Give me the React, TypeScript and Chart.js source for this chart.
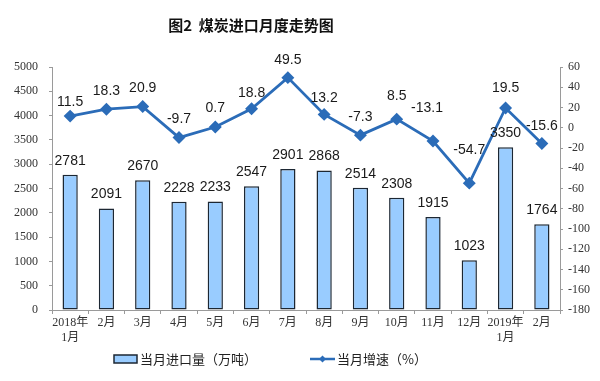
import React, { useEffect, useRef } from "react";
import { Chart, registerables } from "chart.js";

Chart.register(...registerables);

const categories = ["2018年\n1月", "2月", "3月", "4月", "5月", "6月", "7月", "8月", "9月", "10月", "11月", "12月", "2019年\n1月", "2月"];
const importVolume = [2781, 2091, 2670, 2228, 2233, 2547, 2901, 2868, 2514, 2308, 1915, 1023, 3350, 1764];
const growthRate = [11.5, 18.3, 20.9, -9.7, 0.7, 18.8, 49.5, 13.2, -7.3, 8.5, -13.1, -54.7, 19.5, -15.6];
const barLegend = "当月进口量（万吨）";
const lineLegend = "当月增速（%）";
const titleText = "图2  煤炭进口月度走势图";

// label offsets (style only)
const lineLabelDy = [14, 18, 18, 18, 19, 16, 17, 16, 18, 23, 33, 33, 20, 17];
const lineLabelDx = [0, 0, 0, 0, 0, 0, 0, 0, 0, 0, -6, 0, 0, 0];

const BAR_FILL = "#99CCFF";
const BAR_BORDER = "#1c2733";
const LINE_COLOR = "#2B6CB8";
const TICK_FONT = "'Liberation Serif', 'Noto Sans CJK SC', serif";
const LABEL_FONT = "'Liberation Sans', Arial, sans-serif";

const overlayPlugin = {
  id: "overlay",
  afterDatasetsDraw(chart: any) {
    const ctx = chart.ctx;
    ctx.save();
    ctx.textAlign = "center";
    ctx.textBaseline = "middle";
    ctx.fillStyle = "#1a1a1a";
    ctx.font = `14px ${LABEL_FONT}`;
    const barMeta = chart.getDatasetMeta(0);
    barMeta.data.forEach((el: any, i: number) => {
      ctx.fillText(String(importVolume[i]), el.x, el.y - 14);
    });
    const lineMeta = chart.getDatasetMeta(1);
    lineMeta.data.forEach((el: any, i: number) => {
      ctx.fillText(String(growthRate[i]), el.x + lineLabelDx[i], el.y - lineLabelDy[i]);
    });
    ctx.restore();
  },
  afterDraw(chart: any) {
    const ctx = chart.ctx;
    ctx.save();
    // title
    ctx.fillStyle = "#111";
    ctx.font = `bold 15px 'Noto Sans CJK SC', sans-serif`;
    ctx.textAlign = "center";
    ctx.textBaseline = "middle";
    ctx.fillText(titleText, 251, 25);
    // legend
    const ly = 359;
    ctx.fillStyle = BAR_FILL;
    ctx.strokeStyle = BAR_BORDER;
    ctx.lineWidth = 1.5;
    ctx.fillRect(114, ly - 4, 23, 8);
    ctx.strokeRect(114, ly - 4, 23, 8);
    ctx.fillStyle = "#222";
    ctx.font = `13px 'Noto Sans CJK SC', serif`;
    ctx.textAlign = "left";
    ctx.fillText(barLegend, 140, ly);
    ctx.strokeStyle = LINE_COLOR;
    ctx.lineWidth = 2.5;
    ctx.beginPath();
    ctx.moveTo(310, ly);
    ctx.lineTo(335, ly);
    ctx.stroke();
    ctx.fillStyle = LINE_COLOR;
    ctx.beginPath();
    ctx.moveTo(322.5, ly - 3.5);
    ctx.lineTo(326, ly);
    ctx.lineTo(322.5, ly + 3.5);
    ctx.lineTo(319, ly);
    ctx.closePath();
    ctx.fill();
    ctx.fillStyle = "#222";
    ctx.fillText(lineLegend, 337, ly);
    ctx.restore();
  },
};

export default function App() {
  const ref = useRef<HTMLCanvasElement | null>(null);
  useEffect(() => {
    if (!ref.current) return;
    const chart = new Chart(ref.current, {
      type: "bar",
      data: {
        labels: categories,
        datasets: [
          {
            type: "bar",
            label: barLegend,
            data: importVolume,
            backgroundColor: BAR_FILL,
            borderColor: BAR_BORDER,
            borderWidth: 1.5,
            borderSkipped: false,
            barPercentage: 0.42,
            categoryPercentage: 1,
            yAxisID: "y",
            order: 2,
          },
          {
            type: "line",
            label: lineLegend,
            data: growthRate,
            borderColor: LINE_COLOR,
            backgroundColor: LINE_COLOR,
            borderWidth: 2.8,
            pointStyle: "rectRot",
            pointRadius: 4.5,
            pointBackgroundColor: LINE_COLOR,
            pointBorderColor: LINE_COLOR,
            tension: 0,
            yAxisID: "y1",
            order: 1,
          } as any,
        ],
      },
      options: {
        responsive: false,
        animation: false,
        layout: { padding: { top: 67, left: 0, right: 0, bottom: 0 } },
        plugins: {
          legend: { display: false },
          title: { display: false },
          tooltip: { enabled: false },
        },
        scales: {
          x: {
            offset: true,
            grid: {
              offset: true,
              drawOnChartArea: false,
              drawTicks: true,
              tickLength: 4,
              color: "#9a9a9a",
            },
            border: { color: "#9a9a9a", width: 1 },
            ticks: {
              color: "#333",
              font: { family: TICK_FONT, size: 12 },
              padding: 2,
              maxRotation: 0,
              autoSkip: false,
              callback: (_v: any, i: number) => categories[i].split("\n"),
            },
            afterFit: (s: any) => {
              s.height = 71;
            },
          },
          y: {
            position: "left",
            min: 0,
            max: 5000,
            ticks: {
              stepSize: 500,
              color: "#333",
              font: { family: TICK_FONT, size: 12 },
              padding: 11,
              callback: (v: any) => String(v),
            },
            grid: { drawOnChartArea: false, tickLength: 3, color: "#9a9a9a" },
            border: { color: "#9a9a9a", width: 1 },
            afterFit: (s: any) => {
              s.width = 52;
            },
          },
          y1: {
            position: "right",
            min: -180,
            max: 60,
            ticks: {
              stepSize: 20,
              color: "#333",
              font: { family: TICK_FONT, size: 12 },
              padding: 5,
              callback: (v: any) => String(v),
            },
            grid: { drawOnChartArea: false, tickLength: 3, color: "#9a9a9a" },
            border: { color: "#9a9a9a", width: 1 },
            afterFit: (s: any) => {
              s.width = 40;
            },
          },
        },
      },
      plugins: [overlayPlugin],
    });
    return () => chart.destroy();
  }, []);
  return (
    <div style={{ position: "absolute", left: 0, top: 0, width: 600, height: 381, background: "#fff" }}>
      <canvas ref={ref} width={600} height={381} />
    </div>
  );
}
